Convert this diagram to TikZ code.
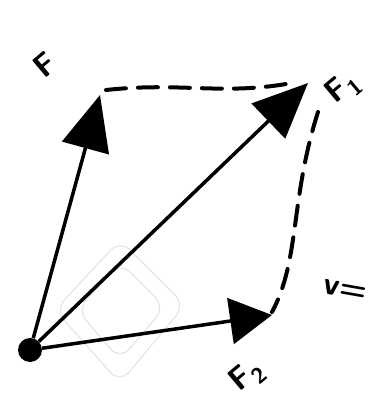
\documentclass[tikz,border=0pt]{standalone}
\usepackage{tikz}
\usetikzlibrary{arrows.meta}
\tikzset{
  origin/.style={circle, fill=black, minimum size=24pt, inner sep=0pt},
  force/.style={line width=3.5pt, black},
  bighead/.style={-{Triangle[length=55pt,width=48pt]}},
  smallhead/.style={-{Triangle[length=42pt,width=46pt]}},
  guide/.style={line width=4pt, dash pattern=on 20pt off 12pt, line cap=round},
  label/.style={font=\sffamily\bfseries\fontsize{32}{32}\selectfont, inner sep=1pt},
  watermark/.style={draw=gray!20, line width=1.2pt, rounded corners=14pt}
}
\begin{document}
\begin{tikzpicture}[x=1pt,y=-1pt]
  \useasboundingbox (0,0) rectangle (373,400);

  % faint watermark
  \draw[watermark] (120,240) -- (185,305) -- (120,383) -- (55,310) -- cycle;
  \draw[watermark] (120,262) -- (165,307) -- (120,360) -- (77,310) -- cycle;

  \node[origin] (O) at (30,350) {};
  \coordinate (F) at (100,95);
  \coordinate (F1) at (308,83);
  \coordinate (F2) at (272,315);

  \draw[force, bighead] (O) -- (F);
  \draw[force, bighead] (O) -- (F1);
  \draw[force, smallhead] (O) -- (F2);

  \coordinate (Fend) at (106,90);
  \coordinate (F1top) at (286,84);
  \coordinate (F1side) at (318,112);
  \coordinate (F2side) at (272,312);
  \draw[guide] (Fend) .. controls (180,82) and (220,95) .. (F1top);
  \draw[guide] (F1side) .. controls (290,200) and (300,260) .. (F2side);

  \node[label, rotate=40] (lF) at (45,65) {F};
  \node[label, rotate=40] (lF1) at (343,88) {F\textsubscript{1}};
  \node[label, rotate=40] (lF2) at (247,376) {F\textsubscript{2}};
  \node[label, rotate=-10] (lv) at (345,290) {v=};
\end{tikzpicture}
\end{document}
